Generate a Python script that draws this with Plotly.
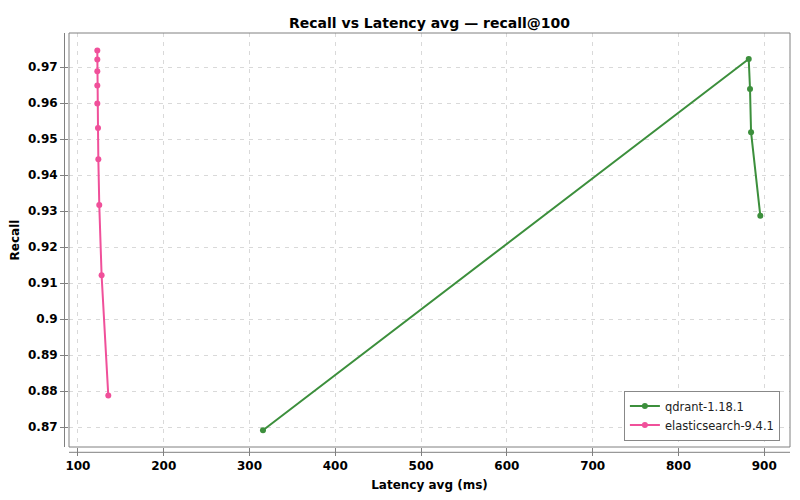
import plotly.graph_objects as go

# 数据：近似值
qdrant_latency = [315.7, 881.9, 883.4, 884.6, 895.4]
qdrant_recall = [0.8692, 0.9722, 0.9639, 0.9519, 0.9287]

es_latency = [122.6, 122.6, 122.6, 122.6, 122.6, 123.4, 123.8, 124.9, 127.6, 135.4]
es_recall = [0.9746, 0.9721, 0.9688, 0.9649, 0.9599, 0.9531, 0.9444, 0.9317, 0.9122, 0.8788]

x_ticks = [100, 200, 300, 400, 500, 600, 700, 800, 900]
y_ticks = [0.87, 0.88, 0.89, 0.9, 0.91, 0.92, 0.93, 0.94, 0.95, 0.96, 0.97]
y_tick_text = ["0.87", "0.88", "0.89", "0.9", "0.91", "0.92", "0.93", "0.94", "0.95", "0.96", "0.97"]

GREEN = "#3c8f3c"
PINK = "#f0509a"
FONT = "DejaVu Sans"

fig = go.Figure()
fig.add_trace(go.Scatter(
    x=qdrant_latency, y=qdrant_recall, name="qdrant-1.18.1",
    mode="lines+markers",
    line=dict(color=GREEN, width=2),
    marker=dict(color=GREEN, size=6),
))
fig.add_trace(go.Scatter(
    x=es_latency, y=es_recall, name="elasticsearch-9.4.1",
    mode="lines+markers",
    line=dict(color=PINK, width=2),
    marker=dict(color=PINK, size=6),
))

grid = dict(showgrid=True, gridcolor="#d9d9d9", griddash="4px,5px", gridwidth=1,
            zeroline=False, showline=False,
            ticks="outside", ticklen=8, tickcolor="#808080",
            tickfont=dict(family=FONT, size=12, color="#000000", weight="bold"))

# 页面 body 自带 8px 边距，所以画布取 792x492
fig.update_layout(
    width=792, height=492,
    margin=dict(l=61, r=10, t=25, b=53, autoexpand=False),
    paper_bgcolor="white", plot_bgcolor="white",
    font=dict(family=FONT, size=12, color="#000000"),
    title=dict(text="<b>Recall vs Latency avg — recall@100</b>",
               x=0.5, xref="paper", xanchor="center",
               y=0.9695, yref="container", yanchor="middle",
               font=dict(family=FONT, size=14, color="#000000")),
    xaxis=dict(range=[89.6, 930.0], tickvals=x_ticks,
               title=dict(text="<b>Latency avg (ms)</b>", standoff=8,
                          font=dict(family=FONT, size=12)),
               **grid),
    yaxis=dict(range=[0.86453, 0.97944], tickvals=y_ticks, ticktext=y_tick_text,
               title=dict(text="<b>Recall</b>", standoff=6,
                          font=dict(family=FONT, size=12)),
               **grid),
    legend=dict(x=0.986, y=0.0155, xanchor="right", yanchor="bottom",
                bgcolor="white", bordercolor="#888888", borderwidth=1,
                font=dict(family=FONT, size=11.5, color="#222222"),
                itemwidth=30, tracegroupgap=0),
    showlegend=True,
)

# 绘图区边框与偏移的坐标轴线
fig.add_shape(type="rect", xref="paper", yref="paper", x0=0, y0=0, x1=1, y1=1,
              line=dict(color="#808080", width=1), layer="above")
off_x = 4.5 / 721
off_y = 5.3 / 414
fig.add_shape(type="line", xref="paper", yref="paper", x0=-off_x, x1=-off_x, y0=0, y1=1,
              line=dict(color="#808080", width=1))
fig.add_shape(type="line", xref="paper", yref="paper", x0=0, x1=1, y0=-off_y, y1=-off_y,
              line=dict(color="#808080", width=1))

fig.write_html("out.html")
